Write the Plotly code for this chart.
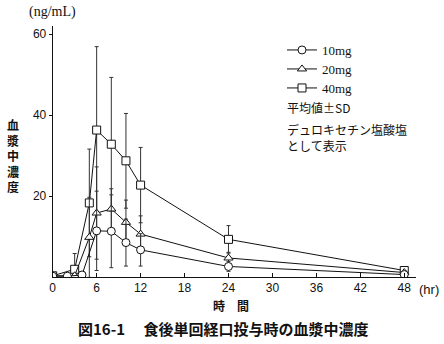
import plotly.graph_objects as go

# ---- data ----
t_10 = [0, 2, 4, 6, 8, 10, 12, 24, 48]
mean_10 = [0.2, 0.2, 0.5, 11.4, 11.3, 8.5, 6.7, 2.6, 0.6]
sd_10 = [0, 0, 0, 9.8, 9.0, 5.8, 4.0, 1.2, 0.4]

t_20 = [0, 3, 5, 6, 8, 10, 12, 24, 48]
mean_20 = [0.3, 0.3, 9.8, 15.8, 16.8, 13.5, 10.6, 4.7, 1.1]
sd_20 = [0, 0.3, 9.9, 11.4, 5.0, 5.5, 4.5, 1.4, 0.5]

t_40 = [0, 3, 5, 6, 8, 10, 12, 24, 48]
mean_40 = [0.3, 1.9, 18.3, 36.3, 32.8, 28.7, 22.7, 9.3, 1.6]
sd_40 = [0, 3.9, 13.3, 20.6, 16.5, 11.7, 9.3, 3.4, 0.6]

x_ticks = [0, 6, 12, 18, 24, 30, 36, 42, 48]
y_ticks = [20, 40, 60]

W, H = 444, 344
JP = "Noto Sans CJK JP"
SERIF = "Liberation Serif"
SANS = "Liberation Sans"

def series(name, t, m, sd, symbol, legend):
    return go.Scatter(
        x=t, y=m, name=name, legend=legend,
        mode="lines+markers",
        line=dict(color="#111", width=1),
        marker=dict(symbol=symbol, size=8, color="white",
                    line=dict(color="#111", width=1)),
        error_y=dict(type="data", array=sd, symmetric=True,
                     color="#333", thickness=1, width=2),
    )

fig = go.Figure()
fig.add_trace(series("40mg", t_40, mean_40, sd_40, "square", "legend3"))
fig.add_trace(series("20mg", t_20, mean_20, sd_20, "triangle-up", "legend2"))
fig.add_trace(series("10mg", t_10, mean_10, sd_10, "circle", "legend"))

x0, x1 = 52.7, 416.0
y0, y1 = 277.0, 26.0

def leg(row_y):
    return dict(x=282 / W, y=1 - (row_y - 12) / H, xanchor="left", yanchor="top",
                bgcolor="rgba(0,0,0,0)",
                font=dict(family=SERIF, size=13, color="#111"),
                itemwidth=30)

fig.update_layout(
    width=W, height=H,
    margin=dict(l=0, r=0, t=0, b=0),
    paper_bgcolor="white", plot_bgcolor="white",
    font=dict(family=SANS, size=12, color="#111"),
    showlegend=True,
    legend=leg(47), legend2=leg(66), legend3=leg(85),
    xaxis=dict(domain=[x0 / W, x1 / W], range=[0, 49.6],
               tickvals=x_ticks, ticks="inside", ticklen=4,
               tickcolor="#111", showline=True, linecolor="#111",
               linewidth=1, showgrid=False, zeroline=False,
               tickfont=dict(family=SANS, size=12), automargin=False),
    yaxis=dict(domain=[(H - y0) / H, (H - y1) / H], range=[0, 62],
               tickvals=y_ticks, ticks="outside", ticklen=3,
               tickcolor="#111", showline=True, linecolor="#111",
               linewidth=1, showgrid=False, zeroline=False,
               tickfont=dict(family=SANS, size=12), automargin=False),
)

def ann(text, x, y, size=12, family=JP, xanchor="center", align="center", yanchor="middle"):
    fig.add_annotation(text=text, x=x / W, y=1 - y / H, xref="paper", yref="paper",
                       showarrow=False, xanchor=xanchor, yanchor=yanchor, align=align,
                       font=dict(family=family, size=size, color="#111"))

ann("(ng/mL)", 52, 12, size=14, family=SERIF)
ann("<b>血<br>漿<br>中<br>濃<br>度</b>", 13, 156, size=12)
ann("<b>時　間</b>", 231, 305, size=12)
ann("(hr)", 429, 289, size=13, family=SANS)
ann("平均値±SD", 285, 107, size=12, xanchor="left", align="left")
ann("デュロキセチン塩酸塩<br>として表示", 285, 137, size=12, xanchor="left", align="left")
ann("<b>図16-1　 食後単回経口投与時の血漿中濃度</b>", 223, 328, size=15)

fig.write_html("out.html")
